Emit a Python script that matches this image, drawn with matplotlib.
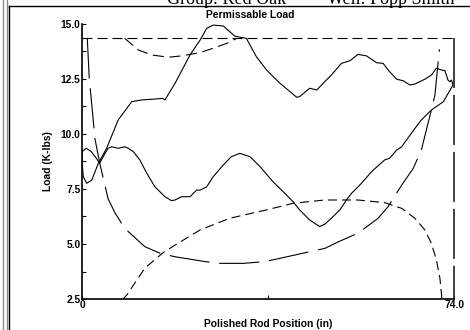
import matplotlib
matplotlib.use('Agg')
import matplotlib.pyplot as plt
from matplotlib.lines import Line2D

plt.rcParams['font.family'] = ['Liberation Sans', 'DejaVu Sans']
plt.rcParams['lines.scale_dashes'] = False

# load card, upstroke (left to right)
up_x = [0, 0.06, 0.26, 0.93, 1.93, 3.25, 4.9, 7.2, 9.9, 11.9, 14.0, 16.0, 16.5, 18.5, 21.5,
        23.5, 24.8, 26.1, 28.1, 29.4, 30.4, 31.4, 32.7, 33.4, 34.7, 36.7, 39.4, 41.0, 42.7,
        43.3, 45.3, 46.7, 48.3, 49.6, 51.6, 53.3, 54.9, 56.6, 58.6, 59.9, 61.2, 62.6, 63.9,
        65.2, 66.2, 68.2, 69.5, 70.5, 71.5, 72.2, 72.8, 73.2, 73.5, 73.8]
up_y = [9.27, 8.59, 8.06, 7.76, 7.9, 8.67, 9.35, 10.64, 11.47, 11.55, 11.58, 11.62, 11.55, 12.3, 13.6,
        14.27, 14.8, 14.95, 14.91, 14.65, 14.45, 14.4, 14.35, 14.05, 13.51, 12.91, 12.3, 12.0, 11.67,
        11.7, 12.08, 12.0, 12.38, 12.68, 13.21, 13.33, 13.62, 13.55, 13.24, 13.21, 12.83, 12.49, 12.42,
        12.23, 12.27, 12.49, 12.68, 12.99, 12.91, 12.88, 12.45, 12.38, 12.45, 12.23]

# load card, downstroke (right to left)
down_x = [73.8, 71.9, 69.5, 67.5, 65.5, 63.6, 62.6, 61.2, 60.2, 57.6, 55.6, 53.6, 52.6, 51.3,
          49.6, 48.3, 47.3, 45.3, 43.3, 42.0, 40.0, 38.0, 35.4, 33.4, 31.4, 29.7, 28.1, 26.1,
          24.8, 23.5, 22.8, 21.5, 19.8, 18.5, 17.8, 16.5, 14.5, 12.9, 11.5, 10.2, 9.2, 8.5,
          7.2, 5.9, 5.17, 4.3, 3.5, 2.84, 1.85, 0.86, 0]
down_y = [12.23, 11.47, 11.09, 10.64, 10.03, 9.42, 9.27, 8.9, 8.82, 8.29, 7.76, 7.3, 7.0, 6.55,
          6.17, 5.9, 5.79, 6.09, 6.55, 6.92, 7.38, 7.83, 8.52, 8.97, 9.12, 8.97, 8.59, 8.06,
          7.6, 7.45, 7.45, 7.15, 7.15, 7.0, 6.97, 7.15, 7.6, 8.21, 8.82, 9.2, 9.35, 9.42,
          9.35, 9.42, 9.35, 9.0, 8.67, 8.9, 9.2, 9.35, 9.2]

# permissible load limits
max_x = [0, 74]
max_y = [14.35, 14.35]
dip_x = [8.5, 8.9, 11.2, 13.9, 17.2, 19.8, 21.5, 23.5, 26.1, 28.8, 30.8]
dip_y = [14.35, 14.27, 13.82, 13.59, 13.49, 13.55, 13.62, 13.7, 13.9, 14.12, 14.35]
edge_x = [74, 74]
edge_y = [14.35, 2.5]

min_x = [1.05, 1.45, 1.6, 2.6, 3.6, 5.2, 6.6, 8.5, 12.5, 15.5, 18.5, 24.5, 27.4, 32.1, 36.4,
         39.4, 45.3, 48.3, 51.0, 54.9, 58.9, 60.9, 63.6, 65.9, 67.5, 69.5, 70.2, 71.1]
min_y = [14.35, 12.5, 12.15, 9.75, 8.6, 7.05, 6.4, 5.71, 4.88, 4.58, 4.42, 4.2, 4.12, 4.12, 4.2,
         4.35, 4.65, 4.8, 5.1, 5.49, 6.17, 6.7, 7.68, 8.44, 9.27, 11.09, 11.77, 13.85]

low_x = [8.0, 8.9, 12.5, 16.0, 18.5, 23.5, 29.4, 36.7, 42.0, 48.3, 54.9, 60.2, 63.6, 66.2,
         68.2, 69.5, 70.5, 71.2, 71.6]
low_y = [2.45, 2.68, 3.9, 4.58, 4.95, 5.64, 6.17, 6.55, 6.85, 7.0, 7.0, 6.88, 6.62, 6.17,
         5.64, 5.03, 4.27, 3.44, 2.5]

fig = plt.figure(figsize=(4.7, 3.3), dpi=100)
W, H = 470.0, 330.0

# window frame
fig.add_artist(Line2D([2.8 / W, 2.8 / W], [0, 1], color='#8a8a8a', lw=1))
fig.add_artist(Line2D([6.7 / W, 6.7 / W], [0, 1], color='#8a8a8a', lw=1))
fig.add_artist(Line2D([9.3 / W, 9.3 / W], [0, 1 - 5.5 / H], color='black', lw=1))
fig.add_artist(Line2D([9.3 / W, 1], [1 - 5.5 / H, 1 - 5.5 / H], color='black', lw=1))
fig.text(167 / W, 1 - 3.5 / H, 'Group: Red Oak', family='Liberation Serif', size=13, va='baseline')
fig.text(327 / W, 1 - 3.5 / H, 'Well: Popp Smith', family='Liberation Serif', size=13, va='baseline')

ax = fig.add_axes([82 / W, 1 - 299 / H, (454 - 82) / W, (299 - 24) / H])
ax.set_xlim(0, 74)
ax.set_ylim(2.5, 15)

ax.plot(up_x, up_y, color='black', lw=0.8)
ax.plot(down_x, down_y, color='black', lw=0.8)
ax.plot(max_x, max_y, color='black', lw=0.8, dashes=(7.2, 3.6))
ax.plot(dip_x, dip_y, color='black', lw=0.8, dashes=(8, 4))
ax.plot(edge_x, edge_y, color='#333333', lw=1.3, dashes=(36, 5), clip_on=False)
ax.plot(min_x, min_y, color='black', lw=0.8, dashes=(29, 7))
ax.plot(low_x, low_y, color='black', lw=0.8, dashes=(6.5, 3.6))

for s in ['top', 'right']:
    ax.spines[s].set_visible(False)
for s in ['left', 'bottom']:
    ax.spines[s].set_linewidth(1.2)

ax.set_yticks([2.5, 5.0, 7.5, 10.0, 12.5, 15.0])
ax.set_yticklabels(['2.5', '5.0', '7.5', '10.0', '12.5', '15.0'])
ax.set_yticks([3.75, 6.25, 8.75, 11.25, 13.75], minor=True)
ax.set_xticks([0, 37, 74])
ax.set_xticklabels(['0', '', '74.0'])
ax.tick_params(which='both', direction='in', length=3, width=0.8, labelsize=7.4, pad=1)
for lab in ax.get_xticklabels() + ax.get_yticklabels():
    lab.set_fontweight('bold')

ax.set_xlabel('Polished Rod Position (in)', fontsize=7.4, fontweight='bold', labelpad=6)
ax.set_ylabel('Load (K-lbs)', fontsize=7.4, fontweight='bold', labelpad=6)
fig.text(250 / W, 1 - 15 / H, 'Permissable Load', fontsize=7.4, fontweight='bold',
         ha='center', va='center')

fig.savefig('out.png', dpi=100)
